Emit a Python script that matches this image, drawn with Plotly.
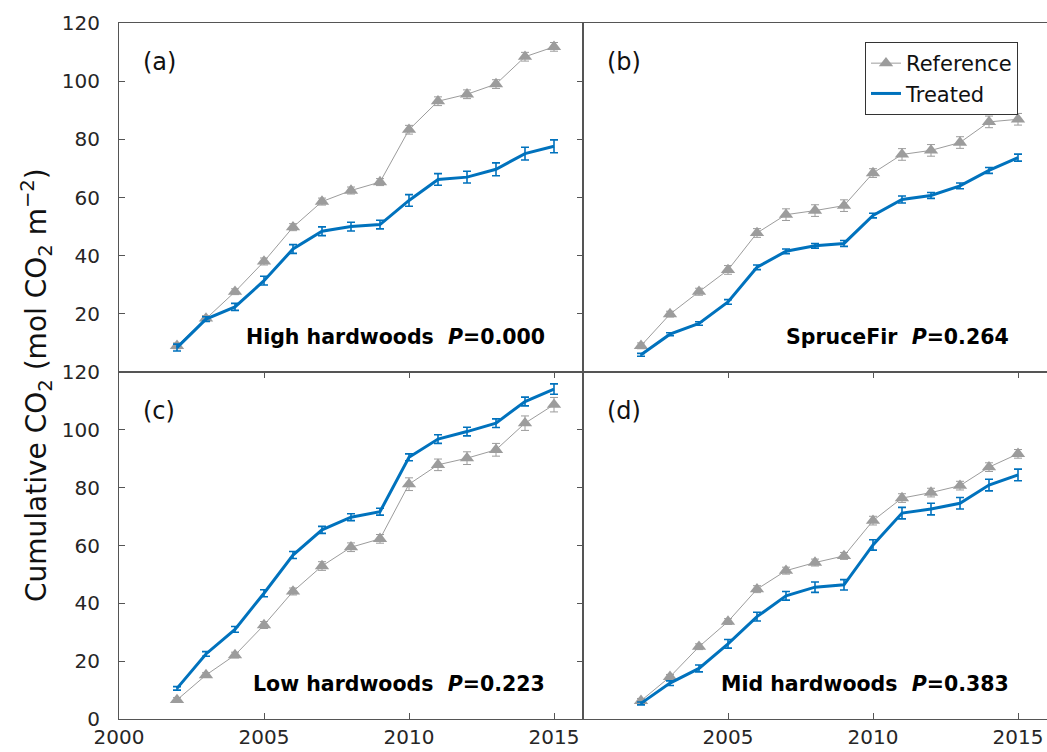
import plotly.graph_objects as go

years = list(range(2002, 2016))

a_ref = [9.0, 18.4, 27.6, 38.0, 49.8, 58.6, 62.4, 65.3, 83.3, 93.1, 95.5, 99.0, 108.4, 111.8]
a_trt = [8.4, 18.2, 22.4, 31.4, 42.3, 48.4, 50.0, 50.7, 59.0, 66.2, 67.0, 69.7, 75.1, 77.6]
b_ref = [9.0, 19.9, 27.6, 35.1, 47.8, 54.1, 55.5, 57.2, 68.4, 74.8, 76.2, 78.9, 86.0, 86.9]
b_trt = [5.9, 13.0, 16.7, 24.1, 36.0, 41.5, 43.4, 44.2, 53.8, 59.3, 60.7, 64.0, 69.3, 73.7]
c_ref = [6.6, 15.2, 22.1, 32.5, 44.1, 52.9, 59.4, 62.3, 81.2, 87.9, 90.2, 93.1, 102.3, 108.7]
c_trt = [10.6, 22.5, 31.0, 43.5, 56.7, 65.4, 69.8, 71.7, 90.5, 96.8, 99.4, 102.3, 109.8, 114.1]
d_ref = [6.3, 14.6, 25.0, 33.7, 44.9, 51.3, 54.1, 56.4, 68.6, 76.4, 78.3, 80.7, 87.1, 91.7]
d_trt = [5.4, 12.4, 17.5, 26.0, 35.4, 42.6, 45.6, 46.4, 60.2, 71.2, 72.6, 74.6, 80.9, 84.4]

a_ref_err = [1.0, 1.0, 1.0, 1.2, 1.2, 1.2, 1.2, 1.2, 1.5, 1.5, 1.5, 1.5, 1.5, 1.5]
a_trt_err = [1.2, 0.8, 1.2, 1.5, 1.5, 1.5, 1.5, 1.5, 2.0, 2.0, 2.0, 2.2, 2.2, 2.2]
b_ref_err = [1.0, 1.0, 1.2, 1.5, 1.5, 2.0, 2.0, 2.0, 1.5, 2.0, 2.0, 2.0, 2.0, 2.0]
b_trt_err = [0.5, 0.5, 0.6, 0.8, 0.8, 0.8, 0.8, 1.0, 0.8, 1.2, 1.0, 1.0, 1.0, 1.2]
c_ref_err = [0.8, 0.8, 1.0, 1.2, 1.2, 1.5, 1.5, 1.5, 2.2, 2.0, 2.2, 2.2, 2.5, 2.5]
c_trt_err = [0.6, 0.8, 1.0, 1.2, 1.2, 1.2, 1.2, 1.2, 1.2, 1.5, 1.5, 1.5, 1.5, 1.8]
d_ref_err = [0.8, 0.8, 1.0, 1.0, 1.2, 1.2, 1.2, 1.2, 1.5, 1.5, 1.5, 1.5, 1.5, 1.5]
d_trt_err = [0.5, 0.8, 1.2, 1.5, 1.5, 1.5, 1.8, 1.8, 1.8, 2.0, 2.0, 2.0, 2.0, 2.0]

panel_tags = ["(a)", "(b)", "(c)", "(d)"]
panel_names = ["High hardwoods", "SpruceFir", "Low hardwoods", "Mid hardwoods"]
p_values = ["0.000", "0.264", "0.223", "0.383"]
series_names = ["Reference", "Treated"]

REF_COLOR = "#9c9c9c"
TRT_COLOR = "#0072BD"
AX_COLOR = "#555555"
TICK_FONT = dict(family="DejaVu Sans", size=20, color="#262626")

W, H = 1047, 752
x_left = [119, 583]
x_right = [583, 1047]
y_top = [[23, 372], [372, 719]]

fig = go.Figure()

panels = [
    (a_ref, a_ref_err, a_trt, a_trt_err),
    (b_ref, b_ref_err, b_trt, b_trt_err),
    (c_ref, c_ref_err, c_trt, c_trt_err),
    (d_ref, d_ref_err, d_trt, d_trt_err),
]

for i, (ref, referr, trt, trterr) in enumerate(panels):
    n = i + 1
    xa = "x" if n == 1 else f"x{n}"
    ya = "y" if n == 1 else f"y{n}"
    show = (n == 2)
    fig.add_trace(go.Scatter(
        x=years, y=ref, name=series_names[0], xaxis=xa, yaxis=ya,
        mode="lines+markers", showlegend=show,
        line=dict(color=REF_COLOR, width=1),
        marker=dict(symbol="triangle-up", size=12.5, color=REF_COLOR),
        error_y=dict(type="data", array=referr, color=REF_COLOR, thickness=1, width=4),
    ))
    fig.add_trace(go.Scatter(
        x=years, y=trt, name=series_names[1], xaxis=xa, yaxis=ya,
        mode="lines", showlegend=show,
        line=dict(color=TRT_COLOR, width=3),
        error_y=dict(type="data", array=trterr, color=TRT_COLOR, thickness=1.6, width=4),
    ))

layout = {}
for i in range(4):
    n = i + 1
    row, col = divmod(i, 2)
    xd = ([x_left, x_right][col][0] / W, [x_left, x_right][col][1] / W)
    yt, yb = y_top[row]
    yd = ((H - yb) / H, (H - yt) / H)
    xkey = "xaxis" if n == 1 else f"xaxis{n}"
    ykey = "yaxis" if n == 1 else f"yaxis{n}"
    ya = "y" if n == 1 else f"y{n}"
    xa = "x" if n == 1 else f"x{n}"
    xaxis = dict(domain=list(xd), range=[2000, 2016], anchor=ya, automargin=False,
                 showline=True, linecolor=AX_COLOR, linewidth=1, mirror=True,
                 showgrid=False, zeroline=False, tickfont=TICK_FONT)
    if row == 1:
        xaxis.update(ticks="inside", ticklen=6, tickcolor=AX_COLOR, mirror="ticks",
                     tickvals=[2000, 2005, 2010, 2015] if col == 0 else [2005, 2010, 2015],
                     ticktext=["2000", "2005", "2010", "2015"] if col == 0 else ["2005", "2010", "2015"],
                     showticklabels=True, ticklabelstandoff=0)
    else:
        xaxis.update(ticks="", showticklabels=False)
    yaxis = dict(domain=list(yd), range=[0, 120], anchor=xa, automargin=False,
                 showline=True, linecolor=AX_COLOR, linewidth=1, mirror=True,
                 showgrid=False, zeroline=False, tickfont=TICK_FONT)
    if col == 0:
        yaxis.update(ticks="inside", ticklen=6, tickcolor=AX_COLOR, mirror="ticks",
                     tickvals=[20, 40, 60, 80, 100, 120] if row == 0 else [0, 20, 40, 60, 80, 100, 120],
                     showticklabels=True, ticklabelstandoff=14)
    else:
        yaxis.update(ticks="", showticklabels=False)
    layout[xkey] = xaxis
    layout[ykey] = yaxis

fig.update_layout(**layout)

annotations = []
for i in range(4):
    n = i + 1
    xr = "x" if n == 1 else f"x{n}"
    yr = "y" if n == 1 else f"y{n}"
    annotations.append(dict(
        x=2000.75, y=106.5, xref=xr, yref=yr, text=panel_tags[i], showarrow=False,
        xanchor="left", yanchor="middle",
        font=dict(family="DejaVu Sans", size=24, color="#111111")))
    annotations.append(dict(
        x=2014.75, y=12, xref=xr, yref=yr,
        text=f"<b>{panel_names[i]}\u00a0\u00a0<i>P</i>=" + p_values[i] + "</b>",
        showarrow=False, xanchor="right", yanchor="middle",
        font=dict(family="DejaVu Sans", size=20.5, color="#000000")))

annotations.append(dict(
    x=36 / W, y=(H - 385) / H, xref="paper", yref="paper",
    text="Cumulative CO<sub>2</sub> (mol CO<sub>2</sub> m<sup>\u22122</sup>)",
    textangle=-90, showarrow=False, xanchor="center", yanchor="middle",
    font=dict(family="DejaVu Sans", size=28, color="#111111")))

fig.update_layout(
    template="none",
    width=W, height=H,
    margin=dict(l=0, r=0, t=0, b=0, pad=0),
    paper_bgcolor="white", plot_bgcolor="white",
    annotations=annotations,
    legend=dict(x=865 / W, y=(H - 42) / H, xanchor="left", yanchor="top",
                bordercolor="#333333", borderwidth=1, bgcolor="white",
                font=dict(family="DejaVu Sans", size=21, color="#111111"),
                tracegroupgap=0, itemwidth=30),
)

fig.write_html("out.html")
